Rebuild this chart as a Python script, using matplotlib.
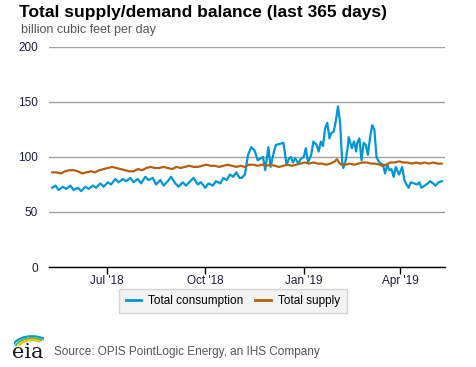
import numpy as np
import pandas as pd
from matplotlib import pyplot as plt
from matplotlib.patches import Arc

# days after 2018-05-11
cons_day = [0, 3, 6, 10, 13, 17, 20, 24, 27, 31, 34, 38, 41, 45, 48, 52, 55, 59, 62, 66,
            69, 73, 76, 80, 83, 87, 90, 94, 97, 101, 104, 108, 111, 115, 118, 122, 125,
            129, 132, 136, 139, 143, 146, 150, 153, 157, 160, 163, 166, 169, 172, 175,
            177, 180, 183, 186, 189, 192, 195, 197, 199, 202, 204, 207, 209, 213, 216,
            219, 221, 223, 225, 227, 230, 232, 235, 237, 239, 242, 244, 247, 249, 251,
            253, 255, 257, 259, 261, 263, 265, 267, 269, 271, 272, 274, 276, 277, 280,
            282, 284, 285, 287, 289, 291, 293, 295, 297, 299, 301, 303, 305, 307, 309,
            311, 313, 315, 317, 319, 321, 324, 327, 329, 331, 333, 335, 338, 341, 343,
            345, 348, 351, 353, 356, 358, 361, 364]
cons_val = [72, 74, 70, 73, 71, 74, 70, 72, 69, 73, 71, 74, 72, 76, 73, 77, 75, 80, 77, 80,
            78, 81, 77, 80, 76, 82, 79, 81, 75, 79, 74, 78, 82, 76, 73, 77, 74,
            78, 81, 75, 77, 72, 76, 74, 78, 76, 81, 79, 84, 82, 86, 81,
            81, 84, 102, 109, 106, 97, 99, 100, 88, 109, 91, 104, 111, 112, 113,
            93, 98, 100, 95, 99, 94, 98, 100, 108, 95, 102, 114, 111, 105, 114,
            110, 126, 131, 117, 122, 123, 133, 146, 131, 95, 90, 96, 108, 118, 108,
            114, 105, 113, 117, 97, 113, 111, 102, 118, 129, 125, 100, 96, 94, 93,
            85, 93, 88, 89, 82, 91, 84, 91, 79, 75, 72, 77, 76, 75, 77,
            72, 74, 76, 78, 76, 74, 77, 78]

supp_day = [0, 4, 8, 12, 16, 20, 24, 28, 32, 36, 40, 44, 48, 52, 56, 60, 64, 68, 72, 76,
            80, 84, 88, 92, 96, 100, 104, 108, 112, 116, 120, 124, 128, 132, 136, 140,
            144, 148, 152, 156, 160, 164, 168, 172, 176, 180, 184, 188, 192, 196, 200,
            204, 208, 212, 216, 220, 224, 228, 232, 236, 240, 244, 248, 252, 256, 260,
            264, 266, 268, 270, 274, 278, 282, 286, 290, 294, 298, 302, 306, 308, 312,
            316, 320, 324, 328, 332, 336, 340, 344, 348, 352, 356, 360, 364]
supp_val = [86, 86, 85, 87, 88, 88, 87, 85, 86, 87, 86, 88, 89, 90, 91, 90, 89, 88, 87, 87,
            89, 88, 90, 91, 90, 90, 91, 90, 89, 91, 90, 91, 92, 91, 91, 92,
            93, 92, 92, 91, 92, 93, 92, 91, 92, 91, 93, 93, 92, 93, 92,
            93, 92, 91, 92, 93, 92, 93, 94, 95, 94, 95, 94, 94, 93, 94,
            96, 98, 95, 93, 93, 94, 93, 94, 95, 95, 94, 94, 93, 92, 93,
            95, 95, 96, 95, 95, 94, 95, 94, 95, 94, 95, 94, 94]

start = pd.Timestamp("2018-05-11")
tick_dates = ["2018-07-01", "2018-10-01", "2019-01-01", "2019-04-01"]
tick_labels = ["Jul '18", "Oct '18", "Jan '19", "Apr '19"]

plt.rcParams["font.family"] = ["Liberation Sans", "DejaVu Sans"]

fig = plt.figure(figsize=(4.77, 3.67), dpi=100)
ax = fig.add_axes([49 / 477, 1 - 267 / 367, 396 / 477, 220 / 367])

cons_x = start + pd.to_timedelta(cons_day, unit="D")
supp_x = start + pd.to_timedelta(supp_day, unit="D")
ax.plot(cons_x, cons_val, color="#0096d7", lw=1.6, label="Total consumption", zorder=3)
ax.plot(supp_x, supp_val, color="#b5600f", lw=1.6, label="Total supply", zorder=3)

ax.set_ylim(0, 200)
ax.set_yticks([0, 50, 100, 150, 200])
ax.set_xlim(pd.Timestamp("2018-05-08"), pd.Timestamp("2019-05-13"))
ax.set_xticks(pd.to_datetime(tick_dates))
ax.set_xticklabels(tick_labels)
ax.grid(axis="y", color="#a0a0a0", lw=1)
ax.set_axisbelow(True)
for s in ["top", "right", "left"]:
    ax.spines[s].set_visible(False)
ax.spines["bottom"].set_color("black")
ax.spines["bottom"].set_linewidth(1)
ax.spines["bottom"].set_zorder(4)
ax.tick_params(axis="y", length=0, pad=8, labelsize=8.5, labelcolor="#1c1c44")
ax.tick_params(axis="x", length=5, width=1, color="black", labelsize=8.5,
               labelcolor="#1c1c3c", pad=1)

fig.text(19 / 477, 1 - 13 / 367, "Total supply/demand balance (last 365 days)",
         fontsize=12.5, fontweight="bold", va="center", ha="left", color="black")
fig.text(21 / 477, 1 - 30 / 367, "billion cubic feet per day", fontsize=9,
         va="center", ha="left", color="#555555")

leg = ax.legend(loc="center", bbox_to_anchor=(233 / 477, 1 - 301 / 367),
                bbox_transform=fig.transFigure, ncol=2, frameon=True, fancybox=False,
                fontsize=8.5, handlelength=1.3, columnspacing=1.0, handletextpad=0.6,
                borderpad=0.55)
leg.get_frame().set_facecolor("#f0f0f0")
leg.get_frame().set_edgecolor("#cccccc")
leg.get_frame().set_linewidth(1)
for line in leg.get_lines():
    line.set_linewidth(2)

# eia logo
fig.text(28 / 477, 1 - 353 / 367, "eia", fontsize=15, family="DejaVu Serif",
         ha="center", va="center", color="#1a1a1a")
logo = fig.add_axes([14 / 477, 1 - 346 / 367, 30 / 477, 14 / 367])
logo.set_xlim(0, 1)
logo.set_ylim(0, 1)
logo.axis("off")
for r, c in [(0.95, "#0096d7"), (0.8, "#5cb84a"), (0.65, "#f2c200")]:
    logo.add_patch(Arc((0.6, -0.2), r * 1.4, r * 1.9, theta1=60, theta2=160,
                       color=c, lw=1.5))

fig.text(54 / 477, 1 - 352 / 367, "Source: OPIS PointLogic Energy, an IHS Company",
         fontsize=8.5, va="center", ha="left", color="#555555")

fig.savefig("out.png", dpi=100)
